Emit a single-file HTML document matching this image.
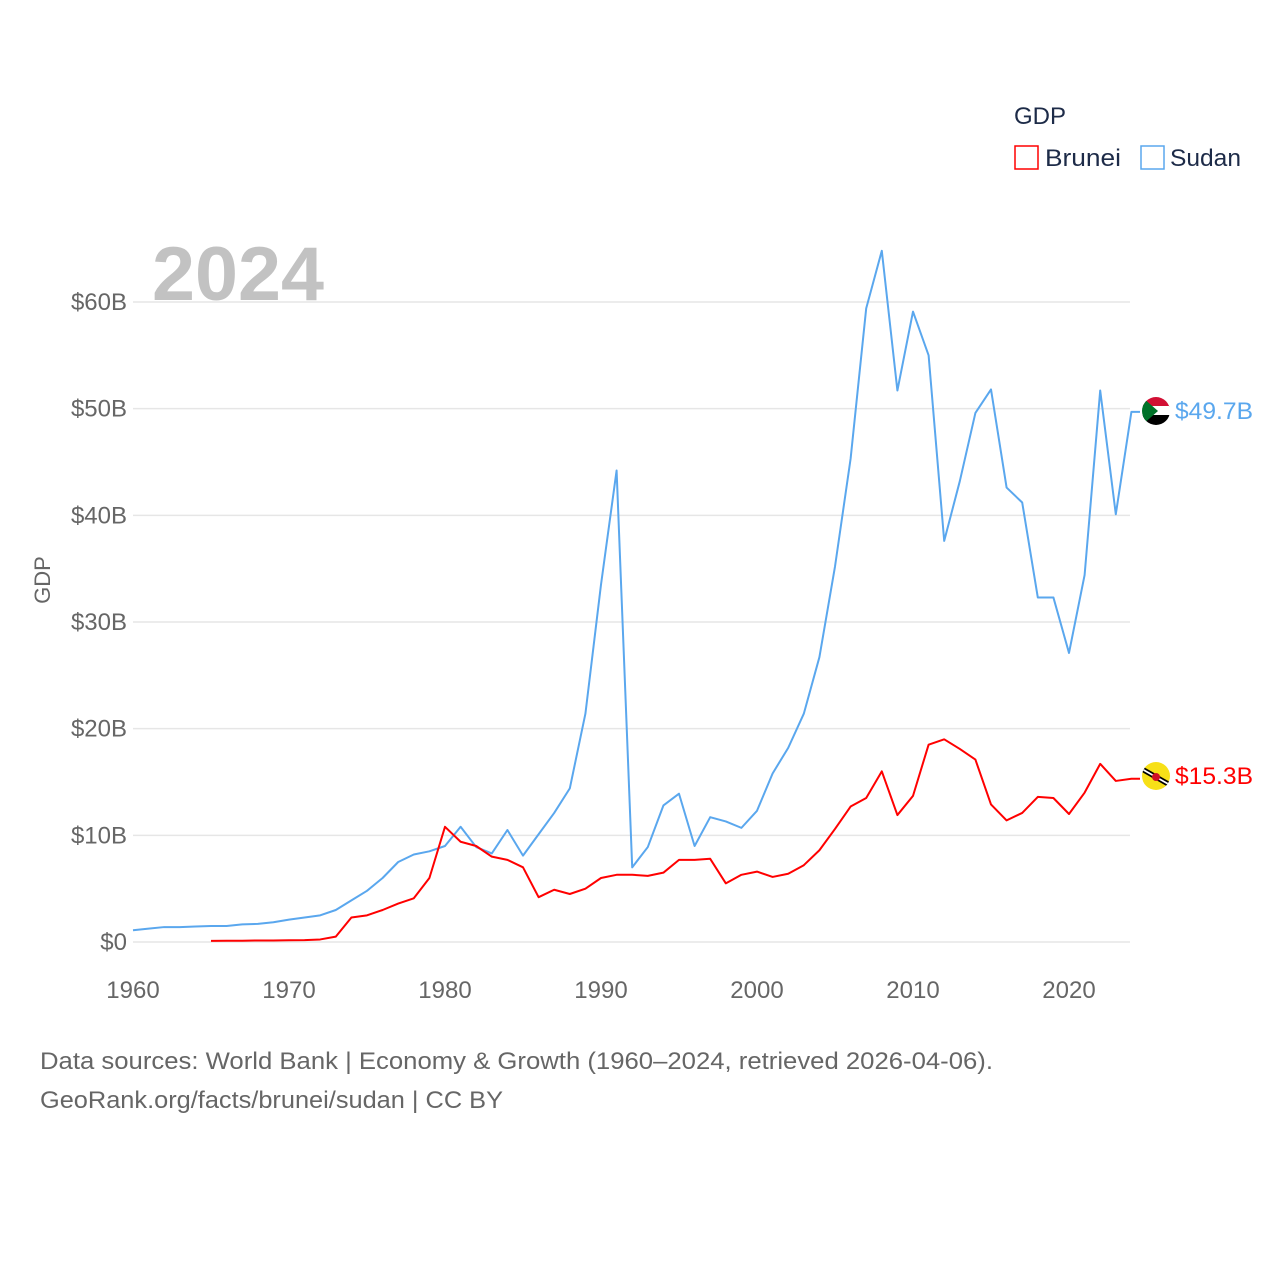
<!DOCTYPE html>
<html><head><meta charset="utf-8"><style>
body{margin:0;background:#fff;font-family:"Liberation Sans",sans-serif}
svg text{font-family:"Liberation Sans",sans-serif}
</style></head><body>
<svg id="chart" width="1280" height="1280" xmlns="http://www.w3.org/2000/svg">
<rect width="1280" height="1280" fill="#fff"/>
<g id="grid"></g>
<text x="152" y="300" font-size="76" font-weight="bold" fill="#c2c2c2" textLength="172" lengthAdjust="spacingAndGlyphs">2024</text>
<text transform="translate(50,580) rotate(-90)" text-anchor="middle" font-size="22" fill="#666">GDP</text>
<g id="series"></g>
<g>
<text x="1014" y="124" font-size="24" fill="#1d2b48">GDP</text>
<rect x="1015" y="146" width="23" height="23" fill="none" stroke="#f00" stroke-width="1.5"/>
<text x="1045" y="166" font-size="24" fill="#1d2b48" textLength="76" lengthAdjust="spacingAndGlyphs">Brunei</text>
<rect x="1141" y="146" width="23" height="23" fill="none" stroke="#5aa7ee" stroke-width="1.5"/>
<text x="1170" y="166" font-size="24" fill="#1d2b48" textLength="71" lengthAdjust="spacingAndGlyphs">Sudan</text>
</g>
<g>
<clipPath id="cs"><circle cx="1156" cy="411" r="14"/></clipPath>
<g clip-path="url(#cs)"><rect x="1142" y="397" width="28" height="10" fill="#d21034"/><rect x="1142" y="406" width="28" height="10" fill="#fff"/><rect x="1142" y="415" width="28" height="11" fill="#000"/><polygon points="1142,397 1158,411 1142,425" fill="#007229"/></g>
</g>
<g>
<clipPath id="cb"><circle cx="1156" cy="776" r="14"/></clipPath>
<g clip-path="url(#cb)"><rect x="1142" y="762" width="28" height="28" fill="#f7e017"/><polygon points="1142,766 1170,782 1170,788 1142,772" fill="#000"/><polygon points="1142,770 1170,786 1170,784 1142,768" fill="#fff"/><circle cx="1156" cy="777" r="4" fill="#cf1126"/></g>
</g>
<text x="1175" y="419" font-size="24" fill="#5aa7ee" textLength="78" lengthAdjust="spacingAndGlyphs">$49.7B</text>
<text x="1175" y="784" font-size="24" fill="#f00" textLength="78" lengthAdjust="spacingAndGlyphs">$15.3B</text>
<text x="40" y="1069" font-size="24" fill="#666" textLength="953" lengthAdjust="spacingAndGlyphs">Data sources: World Bank | Economy &amp; Growth (1960–2024, retrieved 2026-04-06).</text>
<text x="40" y="1108" font-size="24" fill="#666" textLength="463" lengthAdjust="spacingAndGlyphs">GeoRank.org/facts/brunei/sudan | CC BY</text>
</svg>
<script>
const sudanYears = [1960,1961,1962,1963,1964,1965,1966,1967,1968,1969,1970,1971,1972,1973,1974,1975,1976,1977,1978,1979,1980,1981,1982,1983,1984,1985,1986,1987,1988,1989,1990,1991,1992,1993,1994,1995,1996,1997,1998,1999,2000,2001,2002,2003,2004,2005,2006,2007,2008,2009,2010,2011,2012,2013,2014,2015,2016,2017,2018,2019,2020,2021,2022,2023,2024];
const sudanValues = [1.1,1.25,1.4,1.4,1.45,1.5,1.5,1.65,1.7,1.85,2.1,2.3,2.5,3.0,3.9,4.8,6.0,7.5,8.2,8.5,9.0,10.8,8.9,8.3,10.5,8.1,10.1,12.1,14.4,21.4,33.5,44.2,7.0,8.9,12.8,13.9,9.0,11.7,11.3,10.7,12.3,15.8,18.2,21.4,26.7,35.2,45.3,59.4,64.8,51.7,59.1,55.0,37.6,43.2,49.6,51.8,42.6,41.2,32.3,32.3,27.1,34.4,51.7,40.1,49.7];
const bruneiYears = [1965,1966,1967,1968,1969,1970,1971,1972,1973,1974,1975,1976,1977,1978,1979,1980,1981,1982,1983,1984,1985,1986,1987,1988,1989,1990,1991,1992,1993,1994,1995,1996,1997,1998,1999,2000,2001,2002,2003,2004,2005,2006,2007,2008,2009,2010,2011,2012,2013,2014,2015,2016,2017,2018,2019,2020,2021,2022,2023,2024];
const bruneiValues = [0.1,0.12,0.12,0.14,0.14,0.16,0.18,0.24,0.5,2.3,2.5,3.0,3.6,4.1,6.0,10.8,9.4,9.0,8.0,7.7,7.0,4.2,4.9,4.5,5.0,6.0,6.3,6.3,6.2,6.5,7.7,7.7,7.8,5.5,6.3,6.6,6.1,6.4,7.2,8.6,10.6,12.7,13.5,16.0,11.9,13.7,18.5,19.0,18.1,17.1,12.9,11.4,12.1,13.6,13.5,12.0,14.0,16.7,15.1,15.3];
const yTicks = [0,10,20,30,40,50,60];
const yTickLabels = ["$0","$10B","$20B","$30B","$40B","$50B","$60B"];
const xTicks = [1960,1970,1980,1990,2000,2010,2020];

const NS = "http://www.w3.org/2000/svg";
const xS = y => 133 + (y - 1960) * 15.6;
const yS = v => 942 - v * 10.667;
const grid = document.getElementById('grid');
yTicks.forEach((t,i)=>{
  const l = document.createElementNS(NS,'line');
  l.setAttribute('x1',133); l.setAttribute('x2',1130);
  l.setAttribute('y1',yS(t)); l.setAttribute('y2',yS(t));
  l.setAttribute('stroke','#e6e6e6'); l.setAttribute('stroke-width','1.5');
  
  
  grid.appendChild(l);
  const tx = document.createElementNS(NS,'text');
  tx.setAttribute('x',127); tx.setAttribute('y',yS(t)+8);
  tx.setAttribute('text-anchor','end'); tx.setAttribute('font-size','24'); tx.setAttribute('fill','#666');
  tx.textContent = yTickLabels[i];
  
  
  grid.appendChild(tx);
});
xTicks.forEach(t=>{
  const tx = document.createElementNS(NS,'text');
  tx.setAttribute('x',xS(t)); tx.setAttribute('y',998);
  tx.setAttribute('text-anchor','middle'); tx.setAttribute('font-size','24'); tx.setAttribute('fill','#666');
  tx.textContent = t;
  
  
  grid.appendChild(tx);
});
const series = document.getElementById('series');
function line(xs, vs, color, name){
  const p = document.createElementNS(NS,'polyline');
  const pts = xs.map((x,i)=>xS(x)+','+yS(vs[i]));
  pts.push('1140,'+yS(vs[vs.length-1]));
  p.setAttribute('points', pts.join(' '));
  p.setAttribute('fill','none'); p.setAttribute('stroke',color); p.setAttribute('stroke-width','2');
  p.setAttribute('stroke-linejoin','round');
  
  
  series.appendChild(p);
}
line(sudanYears, sudanValues, '#5aa7ee', 'sudan-line');
line(bruneiYears, bruneiValues, '#ff0000', 'brunei-line');
</script>
</body></html>
